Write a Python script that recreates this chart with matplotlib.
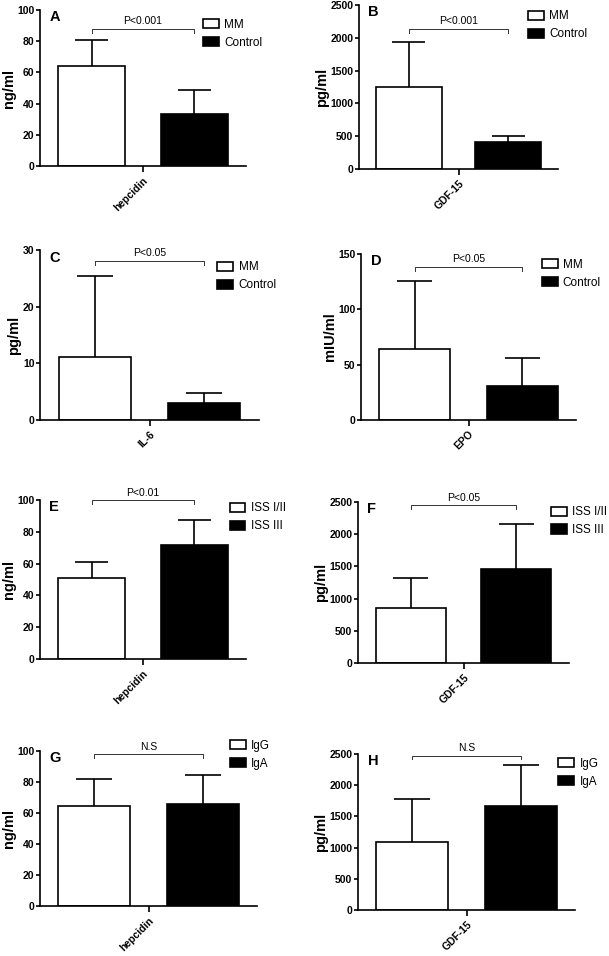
import matplotlib
matplotlib.use("Agg")
import matplotlib.pyplot as plt
import numpy as np

plt.rcParams['font.family'] = ['Liberation Sans', 'DejaVu Sans']

# panel data: means and SD (upper error only)
letters = ['A', 'B', 'C', 'D', 'E', 'F', 'G', 'H']
markers = ['hepcidin', 'GDF-15', 'IL-6', 'EPO', 'hepcidin', 'GDF-15', 'hepcidin', 'GDF-15']
units = ['ng/ml', 'pg/ml', 'pg/ml', 'mIU/ml', 'ng/ml', 'pg/ml', 'ng/ml', 'pg/ml']
groups = [['MM', 'Control'], ['MM', 'Control'], ['MM', 'Control'], ['MM', 'Control'],
          ['ISS I/II', 'ISS III'], ['ISS I/II', 'ISS III'], ['IgG', 'IgA'], ['IgG', 'IgA']]
means = [[64, 33.5], [1250, 415], [11.1, 3.0], [64.6, 31.1],
         [51, 71.5], [855, 1455], [64.3, 66], [1087, 1674]]
sds = [[17, 15.5], [680, 83], [14.3, 1.8], [61, 25],
       [10, 16.2], [465, 710], [17.9, 18.7], [688, 655]]
ymax = [100, 2500, 30, 150, 100, 2500, 100, 2500]
ystep = [20, 500, 10, 50, 20, 500, 20, 500]
pvals = ['P<0.001', 'P<0.001', 'P<0.05', 'P<0.05', 'P<0.01', 'P<0.05', 'N.S', 'N.S']

# layout (pixels: left, right, top, bottom) and annotation placement
W, H = 609, 956
boxes = [(40, 246, 10, 166), (359, 558, 5, 169), (40, 259, 250, 420), (361, 576, 254, 420),
         (40, 246, 500, 659), (358, 569, 502, 663), (40, 257, 751, 906), (358, 575, 754, 910)]
bracket_y = [0.88, 0.854, 0.937, 0.923, 1.0, 0.98, 0.98, 0.99]
legend_pos = [(0.79, 0.848), (0.848, 0.877), (0.81, 0.845), (0.84, 0.881),
              (0.92, 0.892), (0.913, 0.881), (0.876, 0.977), (0.923, 0.88)]

fig = plt.figure(figsize=(W / 100, H / 100), dpi=100)

xpos = [0.25, 0.75]
width = 0.33
lw = 1.2

for i in range(8):
    l, r, t, b = boxes[i]
    ax = fig.add_axes([l / W, 1 - b / H, (r - l) / W, (b - t) / H])
    for j in range(2):
        fc = 'white' if j == 0 else 'black'
        ax.bar(xpos[j], means[i][j], width, color=fc, edgecolor='black',
               linewidth=lw, label=groups[i][j], zorder=2)
        top = means[i][j] + sds[i][j]
        ax.vlines(xpos[j], means[i][j], top, color='black', lw=lw, zorder=1)
        ax.hlines(top, xpos[j] - width / 4, xpos[j] + width / 4, color='black', lw=lw, zorder=1)

    ax.set_xlim(0, 1)
    ax.set_ylim(0, ymax[i])
    ax.set_yticks(np.arange(0, ymax[i] + 1, ystep[i]))
    ax.set_xticks([0.5])
    ax.set_xticklabels([markers[i]], rotation=45, ha='right', rotation_mode='anchor',
                       fontweight='bold', fontsize=7.5)
    for lab in ax.get_yticklabels():
        lab.set_fontweight('bold')
    ax.tick_params(axis='y', labelsize=7.5, length=3, width=lw, pad=1)
    ax.tick_params(axis='x', length=4.5, width=lw, pad=2)
    ax.spines['top'].set_visible(False)
    ax.spines['right'].set_visible(False)
    ax.spines['left'].set_linewidth(lw)
    ax.spines['bottom'].set_linewidth(lw)
    ax.set_ylabel(units[i], fontweight='bold', fontsize=10.5, labelpad=1)

    # significance bracket
    tr = ax.get_xaxis_transform()
    by = bracket_y[i]
    ax.plot([xpos[0], xpos[0], xpos[1], xpos[1]], [by - 0.025, by, by, by - 0.025],
            color='#333333', lw=0.7, transform=tr, clip_on=False)
    ax.text(np.mean(xpos), by + 0.015, pvals[i], transform=tr, ha='center', va='bottom',
            fontsize=7.5)

    ax.text(0.045, 0.955, letters[i], transform=ax.transAxes, fontsize=10.5,
            fontweight='bold', va='center', ha='left')

    lx, ly = legend_pos[i]
    ax.legend(loc='center left', bbox_to_anchor=(lx, ly), frameon=False, fontsize=8.5,
              handlelength=1.35, handleheight=0.8, handletextpad=0.45,
              labelspacing=0.5, borderpad=0, borderaxespad=0)

fig.savefig('out.png', dpi=100)
